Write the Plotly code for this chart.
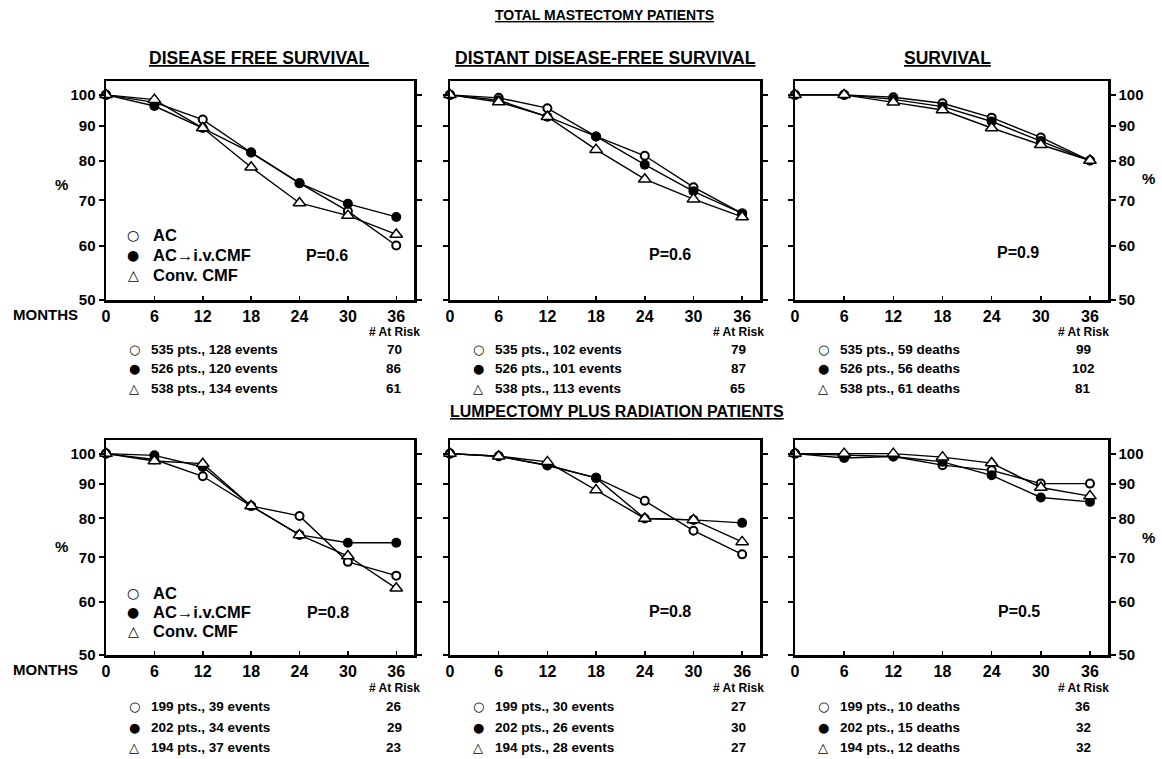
import math
import plotly.graph_objects as go

W, H = 1162, 759

months = [0, 6, 12, 18, 24, 30, 36]
month_ticks = [0, 6, 12, 18, 24, 30, 36]
pct_ticks = [50, 60, 70, 80, 90, 100]

series_names = ["AC", "AC\u2192i.v.CMF", "Conv. CMF"]

# ---- Total mastectomy patients ----
tm_dfs_ac = [100, 97.5, 92.0, 82.3, 74.2, 67.5, 60.1]
tm_dfs_acivcmf = [100, 96.3, 89.4, 82.3, 74.2, 69.2, 66.2]
tm_dfs_conv = [100, 98.4, 89.4, 78.3, 69.4, 66.5, 62.4]

tm_ddfs_ac = [100, 99.0, 95.6, 86.9, 81.4, 73.2, 67.0]
tm_ddfs_acivcmf = [100, 98.2, 92.9, 86.9, 79.0, 72.2, 67.0]
tm_ddfs_conv = [100, 97.6, 92.9, 83.1, 75.2, 70.3, 66.2]

tm_s_ac = [100, 100, 99.2, 97.2, 92.6, 86.6, 80.1]
tm_s_acivcmf = [100, 100, 98.5, 96.1, 91.4, 85.6, 80.1]
tm_s_conv = [100, 100, 97.5, 95.0, 89.4, 84.5, 80.1]

# ---- Lumpectomy plus radiation patients ----
lr_dfs_ac = [100, 98.0, 92.5, 83.5, 80.7, 68.9, 65.7]
lr_dfs_acivcmf = [100, 99.4, 95.5, 83.5, 75.6, 73.6, 73.6]
lr_dfs_conv = [100, 97.5, 96.6, 83.5, 75.6, 70.3, 62.9]

lr_ddfs_ac = [100, 99.1, 96.0, 92.0, 85.0, 76.7, 70.7]
lr_ddfs_acivcmf = [100, 99.1, 96.1, 92.0, 80.0, 79.6, 78.8]
lr_ddfs_conv = [100, 99.1, 97.2, 88.2, 80.0, 79.6, 73.8]

lr_s_ac = [100, 99.5, 99.0, 96.1, 94.4, 90.2, 90.2]
lr_s_acivcmf = [100, 98.5, 99.0, 97.2, 92.8, 86.0, 84.7]
lr_s_conv = [100, 100, 100, 98.8, 96.8, 89.0, 86.4]

p_values = ["P=0.6", "P=0.6", "P=0.9", "P=0.8", "P=0.8", "P=0.5"]

# ---- Tables under each panel ----
tm_dfs_rows = ["535 pts., 128 events", "526 pts., 120 events", "538 pts., 134 events"]
tm_dfs_risk = [70, 86, 61]
tm_ddfs_rows = ["535 pts., 102 events", "526 pts., 101 events", "538 pts., 113 events"]
tm_ddfs_risk = [79, 87, 65]
tm_s_rows = ["535 pts., 59 deaths", "526 pts., 56 deaths", "538 pts., 61 deaths"]
tm_s_risk = [99, 102, 81]
lr_dfs_rows = ["199 pts., 39 events", "202 pts., 34 events", "194 pts., 37 events"]
lr_dfs_risk = [26, 29, 23]
lr_ddfs_rows = ["199 pts., 30 events", "202 pts., 26 events", "194 pts., 28 events"]
lr_ddfs_risk = [27, 30, 27]
lr_s_rows = ["199 pts., 10 deaths", "202 pts., 15 deaths", "194 pts., 12 deaths"]
lr_s_risk = [36, 32, 32]

panel_titles = ["DISEASE FREE SURVIVAL", "DISTANT DISEASE-FREE SURVIVAL", "SURVIVAL"]
group_titles = ["TOTAL MASTECTOMY PATIENTS", "LUMPECTOMY PLUS RADIATION PATIENTS"]

panels = [
    (tm_dfs_ac, tm_dfs_acivcmf, tm_dfs_conv),
    (tm_ddfs_ac, tm_ddfs_acivcmf, tm_ddfs_conv),
    (tm_s_ac, tm_s_acivcmf, tm_s_conv),
    (lr_dfs_ac, lr_dfs_acivcmf, lr_dfs_conv),
    (lr_ddfs_ac, lr_ddfs_acivcmf, lr_ddfs_conv),
    (lr_s_ac, lr_s_acivcmf, lr_s_conv),
]
tables = [
    (tm_dfs_rows, tm_dfs_risk), (tm_ddfs_rows, tm_ddfs_risk), (tm_s_rows, tm_s_risk),
    (lr_dfs_rows, lr_dfs_risk), (lr_ddfs_rows, lr_ddfs_risk), (lr_s_rows, lr_s_risk),
]

# ---- layout geometry (window pixels) ----
col_px = [(106, 414), (450, 760), (795, 1108)]
row_px = [(81, 300), (440, 655)]

FONT = "Liberation Sans, Arial, Helvetica, sans-serif"
SYM = "DejaVu Sans, sans-serif"


def px(x):
    return x / W


def py(y):
    return 1 - y / H


def note(x, y, text, size, xanchor="center", family=FONT):
    return dict(x=px(x), y=py(y), xref="paper", yref="paper", text=text,
                showarrow=False, xanchor=xanchor, yanchor="middle",
                font=dict(family=family, size=size, weight="bold", color="black"))


marker_styles = [
    dict(symbol="circle", size=8, color="white", line=dict(color="black", width=2)),
    dict(symbol="circle", size=10, color="black", line=dict(color="black", width=0)),
    dict(symbol="triangle-up", size=11, color="white", line=dict(color="black", width=1.5)),
]
symbols_txt = ["\u25CB", "\u25CF", "\u25B3"]

fig = go.Figure()
layout = dict(
    width=W, height=H,
    margin=dict(l=0, r=0, t=0, b=0, autoexpand=False),
    paper_bgcolor="white", plot_bgcolor="white",
    showlegend=False,
    font=dict(family=FONT, color="black"),
)

annotations = []
p_pos = [(327, 255), (670, 254), (1018, 253), (328, 612), (670, 611), (1019, 611)]

for i, series in enumerate(panels):
    r, c = divmod(i, 3)
    n = i + 1
    xa = "x" if n == 1 else f"x{n}"
    ya = "y" if n == 1 else f"y{n}"
    for k, vals in enumerate(series):
        fig.add_trace(go.Scatter(
            x=months, y=vals, mode="lines+markers", name=series_names[k],
            xaxis=xa, yaxis=ya,
            line=dict(color="black", width=1.4),
            marker=marker_styles[k], cliponaxis=False,
        ))
    x0, x1 = col_px[c]
    y0, y1 = row_px[r]
    layout["xaxis" if n == 1 else f"xaxis{n}"] = dict(
        domain=[px(x0), px(x1)], anchor=ya, range=[0, 38.2],
        tickvals=month_ticks, ticktext=[str(t) for t in month_ticks],
        ticks="inside", ticklen=4, tickwidth=1.5, tickcolor="black",
        showline=True, linecolor="black", linewidth=2.5, mirror=True,
        showgrid=False, zeroline=False,
        tickfont=dict(family=FONT, size=16, weight="bold", color="black"),
    )
    yax = dict(
        domain=[py(y1), py(y0)], anchor=xa, type="log",
        range=[math.log10(50), math.log10(104.8)],
        tickvals=pct_ticks, ticktext=[str(t) for t in pct_ticks],
        ticks="outside", ticklen=5, tickwidth=2, tickcolor="black",
        showline=True, linecolor="black", linewidth=2.5, mirror="ticks",
        showgrid=False, zeroline=False,
        tickfont=dict(family=FONT, size=15, weight="bold", color="black"),
    )
    if c == 1:
        yax["showticklabels"] = False
    if c == 2:
        yax["side"] = "right"
    layout["yaxis" if n == 1 else f"yaxis{n}"] = yax

    annotations.append(note(p_pos[i][0], p_pos[i][1], p_values[i], 16))

    # table under panel
    rows, risk = tables[i]
    base_y = [332, 349, 368, 388] if r == 0 else [688, 706, 727, 747]
    count_x = x0 + 288
    annotations.append(note(count_x, base_y[0], "# At Risk", 12))
    for k in range(3):
        annotations.append(note(x0 + 28, base_y[k + 1], symbols_txt[k], 13, family=SYM))
        annotations.append(note(x0 + 43, base_y[k + 1], rows[k], 13.5, xanchor="left"))
        annotations.append(note(count_x, base_y[k + 1], str(risk[k]), 13.5))

# in-panel legends (first column)
for ly in ([235, 255, 275], [593, 612, 631]):
    for k in range(3):
        annotations.append(note(133, ly[k], symbols_txt[k], 14, family=SYM))
        annotations.append(note(151, ly[k], series_names[k], 16.5, xanchor="left"))

# titles
annotations.append(note(604, 15, "<u>" + group_titles[0] + "</u>", 14))
annotations.append(note(617, 411, "<u>" + group_titles[1] + "</u>", 16))
for t, tx in zip(panel_titles, [259, 606, 947]):
    annotations.append(note(tx, 58, "<u>" + t + "</u>", 17.5))

# axis words
for yy in (314, 669):
    annotations.append(note(45, yy, "MONTHS", 15))
for (xx, yy) in ((61, 185), (61, 546), (1148, 178), (1148, 537)):
    annotations.append(note(xx, yy, "%", 15))

layout["annotations"] = annotations
fig.update_layout(**layout)
fig.write_html("out.html",
               config={"displayModeBar": False, "staticPlot": True},
               post_script="document.body.style.margin='0';document.body.style.overflow='hidden';")
